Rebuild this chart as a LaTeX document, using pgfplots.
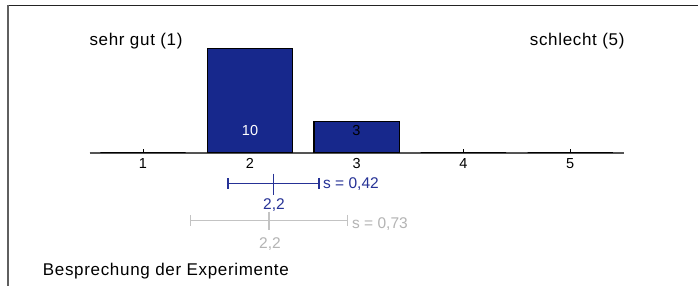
\documentclass[border=0pt]{standalone}
\usepackage{fontspec}
\setmainfont{Liberation Sans}
\newfontfamily\widefont[LetterSpace=4]{Liberation Sans}
\usepackage{pgfplots}
\pgfplotsset{compat=1.18}
\definecolor{barblue}{RGB}{23,40,140}
\definecolor{eblue}{RGB}{38,50,150}
\definecolor{egray}{RGB}{195,195,195}
\definecolor{tgray}{RGB}{180,180,180}
\definecolor{axgray}{RGB}{85,85,85}
\definecolor{framegray}{RGB}{95,95,95}
\definecolor{framedark}{RGB}{35,35,35}
\begin{document}
\begin{tikzpicture}[x=1pt,y=1pt]
\useasboundingbox (0,0) rectangle (698,286);
\fill[white] (0,0) rectangle (698,286);
\draw[framedark, line width=1.5pt] (7,280.5) -- (698,280.5);
\draw[framegray, line width=1.5pt] (8,281.2) -- (8,0);
\begin{axis}[
  at={(89.6pt,133.3pt)}, anchor=south west,
  scale only axis, width=534pt, height=104.4pt,
  xmin=0.5, xmax=5.5, ymin=0, ymax=10, enlargelimits=false,
  axis x line*=bottom, axis y line=none,
  x axis line style={draw=none},
  xtick={1,2,3,4,5}, xticklabels={1,2,3,4,5},
  xtick pos=bottom, tick align=inside, major tick length=4pt,
  xtick style={draw=black, line width=0.8pt},
  xticklabel style={font=\fontsize{14.5}{14.5}\selectfont, yshift=-2.5pt, text=black},
  clip=false,
]
\draw[axgray, line width=2pt] (axis cs:0.5,0) -- (axis cs:5.5,0);
\addplot[ybar, bar width=85.4pt, fill=barblue, draw=black, line width=1.2pt]
  coordinates {(1,0) (2,10) (3,3) (4,0) (5,0)};
% blue: mean 2.2, s = 0.42
\addplot[draw=none, mark=none, forget plot,
  error bars/.cd, x dir=both, x explicit, error mark=|,
  error bar style={draw=eblue, line width=1.5pt},
  error mark options={draw=eblue, line width=1.5pt, mark size=5.5pt}]
  coordinates {(2.22,-2.95) +- (0.426,0)};
\addplot[only marks, mark=|, mark size=10.5pt, mark options={draw=eblue, line width=1.5pt}]
  coordinates {(2.22,-3.0)};
% gray: mean 2.2, s = 0.73
\addplot[draw=none, mark=none, forget plot,
  error bars/.cd, x dir=both, x explicit, error mark=|,
  error bar style={draw=egray, line width=1.5pt},
  error mark options={draw=egray, line width=1.5pt, mark size=5.5pt}]
  coordinates {(2.18,-6.49) +- (0.734,0)};
\addplot[only marks, mark=|, mark size=9pt, mark options={draw=egray, line width=1.5pt}]
  coordinates {(2.18,-6.5)};
\end{axis}
\node[anchor=base, inner sep=0, text=white, font=\fontsize{14.5}{14.5}\selectfont] at (250,150.3) {10};
\node[anchor=base, inner sep=0, text=black, font=\fontsize{14.5}{14.5}\selectfont] at (356.5,150.3) {3};
\node[anchor=base west, inner sep=0, font=\widefont\fontsize{17}{17}\selectfont] at (89.3,240.5) {sehr gut (1)};
\node[anchor=base east, inner sep=0, font=\widefont\fontsize{17}{17}\selectfont] at (624.7,240.5) {schlecht (5)};
\node[anchor=base west, inner sep=0, font=\widefont\fontsize{17}{17}\selectfont] at (42.7,10.3) {Besprechung der Experimente};
\node[anchor=base west, inner sep=0, text=eblue, font=\fontsize{15.5}{15.5}\selectfont] at (323,97) {s = 0,42};
\node[anchor=base, inner sep=0, text=eblue, font=\fontsize{15.5}{15.5}\selectfont] at (274,76.7) {2,2};
\node[anchor=base west, inner sep=0, text=tgray, font=\fontsize{15.5}{15.5}\selectfont] at (352,57.7) {s = 0,73};
\node[anchor=base, inner sep=0, text=tgray, font=\fontsize{15.5}{15.5}\selectfont] at (270,37.7) {2,2};
\end{tikzpicture}
\end{document}
